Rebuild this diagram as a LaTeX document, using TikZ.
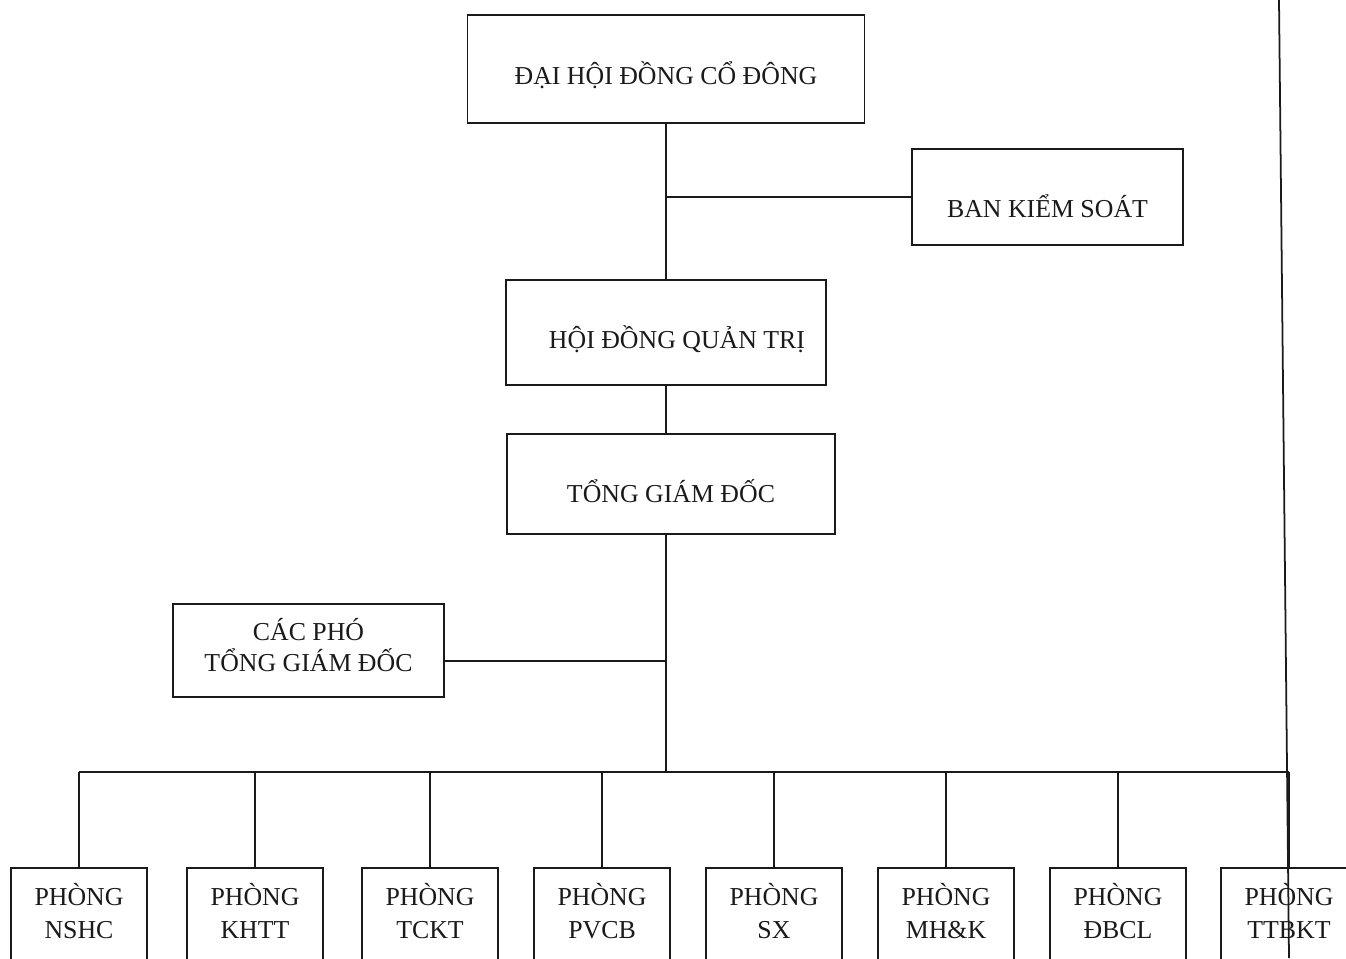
\documentclass[tikz,border=0pt]{standalone}
\usepackage{fontspec}
\setmainfont{Liberation Serif}
\usepackage{xcolor}
\definecolor{inkgray}{HTML}{1A1A1A}
\tikzset{
  orgbox/.style={draw=inkgray, line width=1pt, text=inkgray, align=center, inner sep=0pt,
    font=\fontsize{14.7}{20}\selectfont, text height=0.72cm, text depth=0.1cm},
  deptbox/.style={orgbox, anchor=north, minimum width=2.72cm, inner ysep=0.25cm,
    font=\fontsize{14.7}{18.7}\selectfont, text height=1.16cm, text depth=2cm},
  link/.style={draw=inkgray, line width=1pt}
}
\begin{document}
\begin{tikzpicture}[x=0.02cm, y=-0.02cm]
\clip (0,0) rectangle (1346,958);
\fill[white] (0,0) rectangle (1346,958);

\node[orgbox, minimum width=7.94cm, minimum height=2.16cm] (dhdcd) at (666,69) {ĐẠI HỘI ĐỒNG CỔ ĐÔNG};
\node[orgbox, minimum width=5.42cm, minimum height=1.92cm, text height=0.9cm] (bks) at (1047.5,197) {BAN KIỂM SOÁT};
\node[orgbox, minimum width=6.4cm, minimum height=2.1cm] (hdqt) at (666,332.5) {\hspace*{0.44cm}HỘI ĐỒNG QUẢN TRỊ};
\node[orgbox, minimum width=6.56cm, minimum height=2cm, text height=0.82cm] (tgd) at (671,484) {TỔNG GIÁM ĐỐC};
\node[orgbox, minimum width=5.42cm, minimum height=1.86cm, font=\fontsize{14.7}{17.6}\selectfont,
  text height=1.05cm, text depth=0.22cm] (pho) at (308.5,650.5) {CÁC PHÓ\\TỔNG GIÁM ĐỐC};

\foreach \name/\x/\lbl in {nshc/79/NSHC, khtt/255/KHTT, tckt/430/TCKT, pvcb/602/PVCB,
  sx/774/SX, mhk/946/MH\&K, dbcl/1118/ĐBCL, ttbkt/1289/TTBKT}
  \node[deptbox] (\name) at (\x,867) {PHÒNG\\\lbl};

\coordinate (bus) at (666,772);
\draw[link] (dhdcd.south) -- (hdqt.north);
\draw[link] (dhdcd.south |- bks.west) -- (bks.west);
\draw[link] (hdqt.south) -- (hdqt.south |- tgd.north);
\draw[link] (bus |- tgd.south) -- (bus);
\draw[link] ([yshift=-0.21cm]pho.east) -- ([yshift=-0.21cm]pho.east -| bus);
\draw[link] (nshc.north |- bus) -- (ttbkt.north |- bus);
\foreach \name in {nshc, khtt, tckt, pvcb, sx, mhk, dbcl, ttbkt}
  \draw[link] (\name.north) -- (\name.north |- bus);

\coordinate (edgetop) at (1279,0);
\coordinate (edgebot) at (1289,958);
\draw[link] (edgetop) -- (edgebot);
\end{tikzpicture}
\end{document}
